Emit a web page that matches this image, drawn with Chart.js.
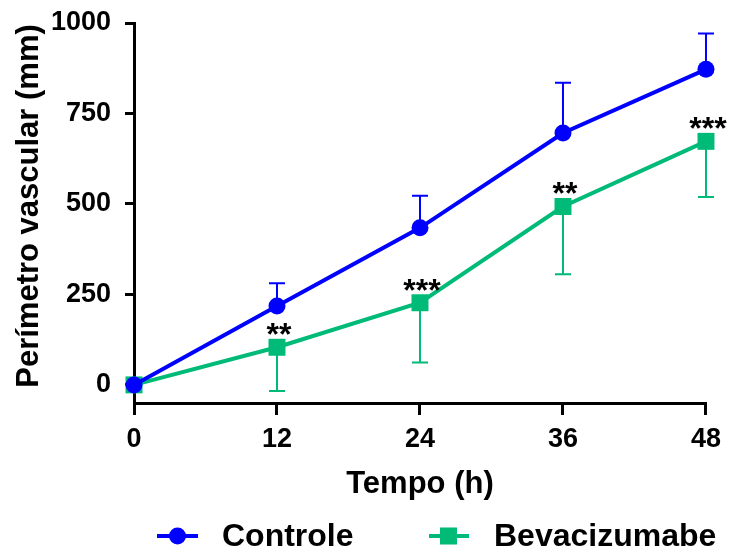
<!DOCTYPE html>
<html>
<head>
<meta charset="utf-8">
<script src="https://cdn.jsdelivr.net/npm/chart.js@4.4.0/dist/chart.umd.min.js"></script>
<style>
  html, body { margin: 0; padding: 0; background: #fff; }
  #wrap { width: 729px; height: 549px; }
</style>
</head>
<body>
<div id="wrap"><canvas id="chart" width="729" height="549"></canvas></div>
<script>
// data
const hours = [0, 12, 24, 36, 48];
const controle = [0, 218, 434, 696, 872];
const controleSD = [0, 63, 89, 139, 99];
const bevacizumabe = [0, 104, 227, 493, 673];
const bevacizumabeSD = [0, 121, 165, 187, 154];
const signif = ["", "**", "***", "**", "***"];
const xTicks = [0, 12, 24, 36, 48];
const yTicks = [0, 250, 500, 750, 1000];

const BLUE = "#0000ff";
const GREEN = "#00ba78";
const FONT = "'Liberation Sans', Arial, sans-serif";

// ─── ERROR BARS (one-sided, like Prism) ─────────────────────
const errorBars = {
    id: "errorBars",
    beforeDatasetsDraw(chart) {
        const ctx = chart.ctx;
        const xs = chart.scales.x, ys = chart.scales.y;
        const sets = [
            { mean: controle, sd: controleSD, dir: 1, color: BLUE },
            { mean: bevacizumabe, sd: bevacizumabeSD, dir: -1, color: GREEN }
        ];
        ctx.save();
        ctx.lineWidth = 2;
        sets.forEach(s => {
            ctx.strokeStyle = s.color;
            hours.forEach((h, i) => {
                if (!s.sd[i]) return;
                const px = xs.getPixelForValue(h);
                const p0 = ys.getPixelForValue(s.mean[i]);
                const p1 = ys.getPixelForValue(s.mean[i] + s.dir * s.sd[i]);
                ctx.beginPath();
                ctx.moveTo(px, p0);
                ctx.lineTo(px, p1);
                ctx.moveTo(px - 8, p1);
                ctx.lineTo(px + 8, p1);
                ctx.stroke();
            });
        });
        ctx.restore();
    }
};

// ─── SIGNIFICANCE STARS ─────────────────────────────────────
const stars = {
    id: "stars",
    afterDatasetsDraw(chart) {
        const ctx = chart.ctx;
        const xs = chart.scales.x, ys = chart.scales.y;
        ctx.save();
        ctx.fillStyle = "#000";
        ctx.font = "bold 32px " + FONT;
        ctx.textAlign = "center";
        ctx.textBaseline = "alphabetic";
        hours.forEach((h, i) => {
            if (!signif[i]) return;
            const px = xs.getPixelForValue(h) + 2;
            const py = ys.getPixelForValue(bevacizumabe[i]);
            ctx.fillText(signif[i], px, py - 2);
        });
        ctx.restore();
    }
};

// ─── Y TITLE + LEGEND (drawn by hand) ───────────────────────
const extras = {
    id: "extras",
    afterDraw(chart) {
        const ctx = chart.ctx;
        ctx.save();
        // y-axis title, rotated
        ctx.fillStyle = "#000";
        ctx.font = "bold 31px " + FONT;
        ctx.textAlign = "center";
        ctx.textBaseline = "middle";
        ctx.translate(29, 206);
        ctx.rotate(-Math.PI / 2);
        ctx.fillText("Perímetro vascular (mm)", 0, 0);
        ctx.restore();

        const y = 536;
        ctx.save();
        ctx.lineWidth = 4;
        // Controle
        ctx.strokeStyle = BLUE;
        ctx.beginPath(); ctx.moveTo(157, y); ctx.lineTo(198, y); ctx.stroke();
        ctx.fillStyle = BLUE;
        ctx.beginPath(); ctx.arc(177.5, y, 8.5, 0, Math.PI * 2); ctx.fill();
        // Bevacizumabe
        ctx.strokeStyle = GREEN;
        ctx.beginPath(); ctx.moveTo(429, y); ctx.lineTo(469, y); ctx.stroke();
        ctx.fillStyle = GREEN;
        ctx.fillRect(440, y - 8.5, 17, 17);
        ctx.fillStyle = "#000";
        ctx.font = "bold 32px " + FONT;
        ctx.textBaseline = "middle";
        ctx.textAlign = "left";
        ctx.fillText("Controle", 222, y + 1);
        ctx.fillText("Bevacizumabe", 494, y + 1);
        ctx.restore();
    }
};

// ─── CHART INIT ─────────────────────────────────────────────
function initChart() {
    const ctx = document.getElementById("chart").getContext("2d");
    new Chart(ctx, {
        type: "line",
        data: {
            datasets: [
                {
                    label: "Controle",
                    data: hours.map((h, i) => ({ x: h, y: controle[i] })),
                    borderColor: BLUE,
                    backgroundColor: BLUE,
                    borderWidth: 4,
                    pointStyle: "circle",
                    pointRadius: 8.5,
                    pointBorderWidth: 0,
                    tension: 0,
                    clip: false
                },
                {
                    label: "Bevacizumabe",
                    data: hours.map((h, i) => ({ x: h, y: bevacizumabe[i] })),
                    borderColor: GREEN,
                    backgroundColor: GREEN,
                    borderWidth: 4,
                    pointStyle: "rect",
                    pointRadius: 12,
                    pointBorderWidth: 0,
                    tension: 0,
                    clip: false
                }
            ]
        },
        options: {
            responsive: false,
            animation: false,
            layout: { padding: { top: 23, right: 23, bottom: 46, left: 0 } },
            plugins: {
                legend: { display: false },
                tooltip: { enabled: false }
            },
            scales: {
                x: {
                    type: "linear",
                    min: 0,
                    max: 48,
                    afterBuildTicks: s => { s.ticks = xTicks.map(v => ({ value: v })); },
                    afterFit: s => { s.height = 100; },
                    border: { display: true, color: "#000", width: 3 },
                    grid: { drawOnChartArea: false, drawTicks: true, tickLength: 12, color: "#000", lineWidth: 3 },
                    ticks: { color: "#000", padding: 8, maxRotation: 0, callback: v => String(v), font: { family: FONT, size: 27, weight: "bold" } },
                    title: { display: true, text: "Tempo (h)", color: "#000", padding: { top: 0, bottom: 0 }, font: { family: FONT, size: 31, weight: "bold" } }
                },
                y: {
                    type: "linear",
                    min: -50,
                    max: 1000,
                    afterBuildTicks: s => { s.ticks = yTicks.map(v => ({ value: v })); },
                    afterFit: s => { s.width = 134; s.paddingTop = 0; s.paddingBottom = 0; },
                    border: { display: true, color: "#000", width: 3 },
                    grid: { drawOnChartArea: false, drawTicks: true, tickLength: 9, color: "#000", lineWidth: 3 },
                    ticks: { color: "#000", padding: 14, callback: v => String(v), font: { family: FONT, size: 27, weight: "bold" } },
                    title: { display: false }
                }
            }
        },
        plugins: [errorBars, stars, extras]
    });
}

initChart();
</script>
</body>
</html>
